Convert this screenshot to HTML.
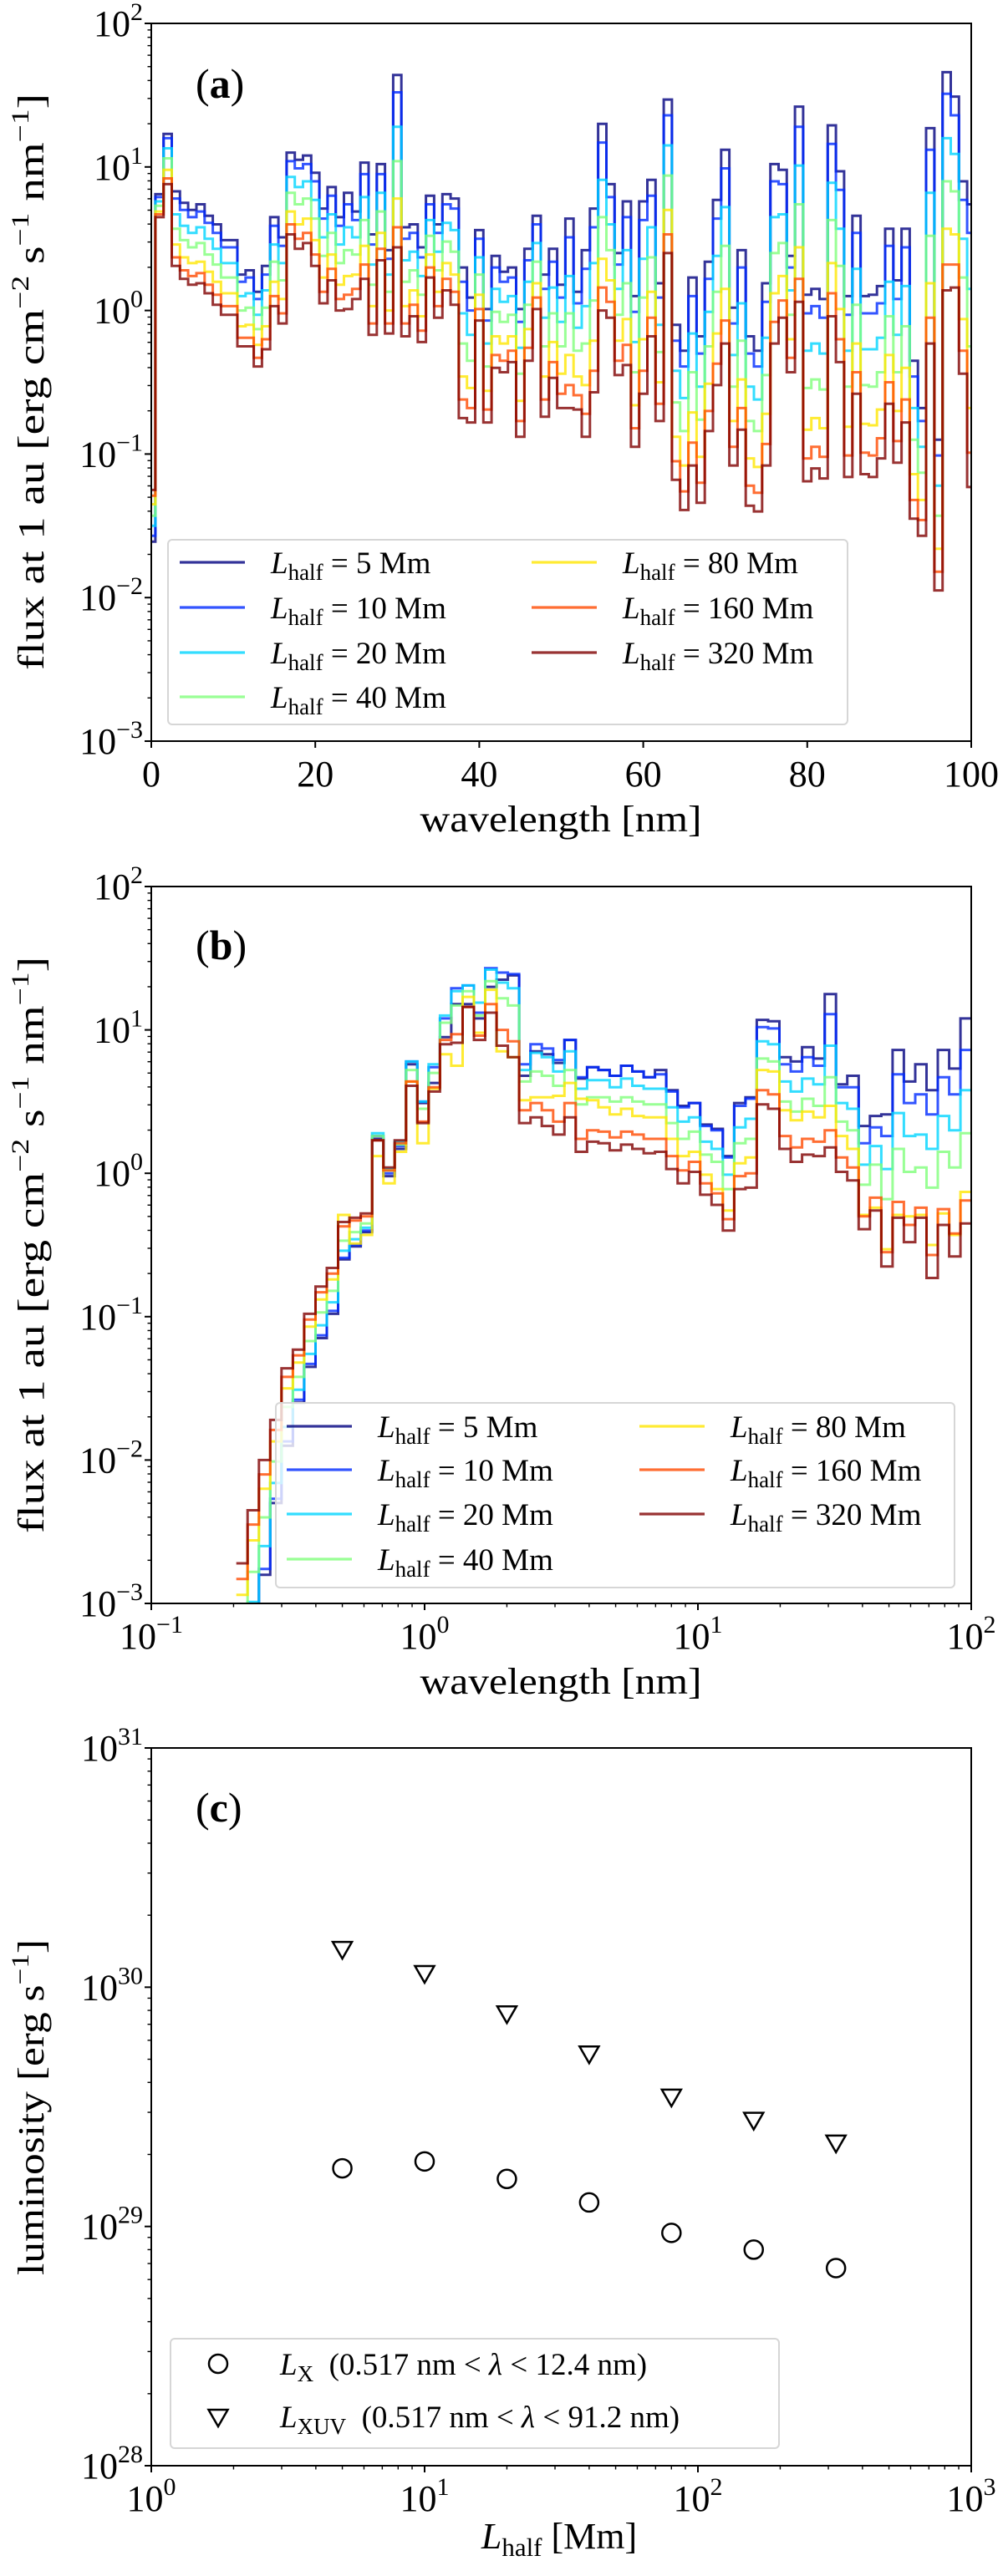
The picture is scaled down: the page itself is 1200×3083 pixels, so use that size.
<!DOCTYPE html>
<html><head><meta charset="utf-8"><title>Spectra and luminosity</title>
<style>
html,body{margin:0;padding:0;background:#fff;}
svg{display:block;font-family:"Liberation Serif","DejaVu Serif",serif;}
</style></head>
<body>
<svg id="fig" xmlns="http://www.w3.org/2000/svg" width="1200" height="3083" viewBox="0 0 1200 3083">
<rect x="0" y="0" width="1200" height="3083" fill="#fff"/>
</svg>
<script>
// ---------- Panel (a): log10 flux per 1-nm bin (centres 0..100 nm) ----------
const seriesNames = ["5","10","20","40","80","160","320"];
const seriesColors = ["#00007f","#002bff","#00d5ff","#80ff7a","#ffe600","#ff4a00","#800000"];
const aLog5 = [-1.61,0.81,1.23,0.83,0.75,0.70,0.74,0.66,0.60,0.49,0.49,0.25,0.28,0.13,0.31,0.65,0.51,1.10,1.05,1.08,0.96,0.71,0.86,0.65,0.82,0.69,1.03,0.53,1.02,0.42,1.64,0.58,0.60,0.44,0.80,0.60,0.81,0.78,0.30,0.09,0.56,0.01,0.38,0.27,0.30,0.01,0.43,0.66,0.25,0.43,0.18,0.64,0.13,0.42,0.71,1.30,0.88,0.40,0.76,0.10,0.76,0.91,0.19,1.47,-0.10,-0.28,0.23,-0.18,0.34,0.77,1.12,0.02,0.42,-0.18,-0.28,0.19,1.02,0.98,0.38,1.42,0.11,0.15,0.08,1.29,0.97,0.10,0.66,0.10,0.11,0.17,0.57,0.21,0.57,-0.35,-0.68,1.27,-0.90,1.66,1.49,0.90,0.74];
const aLog10 = [-1.57,0.79,1.20,0.78,0.70,0.65,0.69,0.61,0.54,0.44,0.44,0.20,0.23,0.08,0.25,0.59,0.45,1.04,0.99,1.02,0.90,0.64,0.80,0.59,0.74,0.63,0.95,0.46,0.95,0.36,1.52,0.50,0.54,0.37,0.74,0.54,0.74,0.71,0.20,0.00,0.50,-0.07,0.30,0.20,0.23,-0.08,0.35,0.60,0.15,0.34,0.09,0.51,0.05,0.29,0.58,1.17,0.79,0.32,0.65,-0.01,0.63,0.80,0.09,1.36,-0.21,-0.39,0.10,-0.30,0.22,0.64,0.99,-0.09,0.30,-0.30,-0.39,0.06,0.90,0.88,0.30,1.28,-0.02,0.03,-0.05,1.16,0.84,-0.03,0.54,-0.02,-0.02,0.05,0.45,0.08,0.44,-0.46,-0.77,1.12,-1.01,1.51,1.36,0.77,0.54];
const aLog20 = [-1.50,0.76,1.13,0.67,0.59,0.54,0.58,0.50,0.43,0.33,0.33,0.10,0.12,-0.03,0.14,0.46,0.33,0.93,0.86,0.90,0.77,0.51,0.67,0.46,0.58,0.51,0.79,0.32,0.82,0.25,1.28,0.35,0.41,0.24,0.63,0.41,0.61,0.56,-0.02,-0.17,0.37,-0.23,0.15,0.06,0.10,-0.26,0.20,0.47,-0.05,0.16,-0.08,0.24,-0.12,0.03,0.33,0.91,0.60,0.15,0.42,-0.22,0.36,0.58,-0.10,1.15,-0.42,-0.61,-0.16,-0.53,-0.01,0.38,0.72,-0.31,0.05,-0.53,-0.62,-0.19,0.65,0.67,0.14,1.01,-0.28,-0.23,-0.30,0.89,0.57,-0.28,0.29,-0.27,-0.27,-0.19,0.20,-0.17,0.17,-0.68,-0.95,0.82,-1.22,1.20,1.09,0.50,0.15];
const aLog40 = [-1.43,0.73,1.06,0.57,0.49,0.44,0.47,0.39,0.32,0.23,0.23,0.00,0.02,-0.13,0.02,0.34,0.21,0.82,0.74,0.78,0.64,0.38,0.54,0.33,0.42,0.39,0.63,0.18,0.69,0.13,1.04,0.20,0.28,0.11,0.52,0.28,0.48,0.41,-0.23,-0.35,0.25,-0.39,-0.01,-0.08,-0.03,-0.44,0.04,0.34,-0.25,-0.02,-0.25,-0.02,-0.28,-0.23,0.07,0.65,0.42,-0.03,0.19,-0.43,0.09,0.37,-0.29,0.94,-0.64,-0.84,-0.43,-0.76,-0.25,0.13,0.45,-0.53,-0.21,-0.77,-0.84,-0.45,0.40,0.47,-0.03,0.74,-0.54,-0.48,-0.55,0.63,0.31,-0.53,0.04,-0.52,-0.53,-0.43,-0.04,-0.43,-0.11,-0.90,-1.13,0.52,-1.43,0.90,0.83,0.23,-0.25];
const aLog80 = [-1.35,0.69,0.98,0.46,0.37,0.33,0.34,0.27,0.20,0.12,0.12,-0.11,-0.10,-0.24,-0.11,0.20,0.08,0.69,0.60,0.64,0.49,0.23,0.39,0.18,0.24,0.25,0.45,0.03,0.54,0.00,0.78,0.03,0.14,-0.04,0.39,0.13,0.33,0.25,-0.46,-0.54,0.11,-0.56,-0.18,-0.23,-0.18,-0.63,-0.13,0.19,-0.46,-0.22,-0.44,-0.31,-0.46,-0.52,-0.21,0.36,0.21,-0.21,-0.06,-0.66,-0.20,0.13,-0.50,0.70,-0.88,-1.08,-0.71,-1.02,-0.51,-0.16,0.15,-0.77,-0.48,-1.03,-1.09,-0.72,0.12,0.24,-0.20,0.44,-0.83,-0.75,-0.82,0.33,0.01,-0.81,-0.23,-0.79,-0.80,-0.69,-0.31,-0.70,-0.40,-1.14,-1.32,0.19,-1.66,0.57,0.53,-0.06,-0.68];
const aLog160 = [-1.29,0.67,0.92,0.37,0.28,0.24,0.26,0.18,0.11,0.03,0.03,-0.19,-0.19,-0.33,-0.20,0.10,-0.02,0.60,0.50,0.54,0.39,0.13,0.29,0.08,0.11,0.15,0.32,-0.09,0.43,-0.09,0.58,-0.09,0.04,-0.14,0.30,0.03,0.22,0.13,-0.62,-0.68,0.01,-0.69,-0.31,-0.35,-0.28,-0.77,-0.26,0.09,-0.62,-0.36,-0.58,-0.52,-0.59,-0.72,-0.42,0.16,0.06,-0.35,-0.24,-0.82,-0.42,-0.05,-0.65,0.53,-1.05,-1.26,-0.92,-1.20,-0.70,-0.37,-0.07,-0.95,-0.68,-1.22,-1.27,-0.93,-0.08,0.07,-0.33,0.22,-1.03,-0.95,-1.02,0.12,-0.20,-1.01,-0.43,-0.99,-1.01,-0.89,-0.50,-0.91,-0.62,-1.32,-1.46,-0.05,-1.82,0.32,0.32,-0.28,-0.99];
const aLog320 = [-1.25,0.65,0.88,0.31,0.22,0.18,0.19,0.12,0.04,-0.03,-0.03,-0.25,-0.25,-0.39,-0.27,0.03,-0.09,0.53,0.43,0.47,0.31,0.05,0.21,0.00,0.01,0.08,0.22,-0.17,0.35,-0.16,0.44,-0.18,-0.04,-0.22,0.23,-0.05,0.14,0.04,-0.75,-0.78,-0.07,-0.78,-0.40,-0.43,-0.36,-0.88,-0.35,0.01,-0.74,-0.47,-0.68,-0.68,-0.69,-0.88,-0.57,0.00,-0.05,-0.45,-0.38,-0.95,-0.58,-0.18,-0.77,0.40,-1.18,-1.39,-1.08,-1.34,-0.84,-0.52,-0.23,-1.08,-0.83,-1.36,-1.40,-1.08,-0.23,-0.05,-0.43,0.06,-1.19,-1.10,-1.17,-0.04,-0.36,-1.16,-0.58,-1.14,-1.16,-1.03,-0.65,-1.06,-0.78,-1.45,-1.57,-0.23,-1.95,0.14,0.16,-0.44,-1.23];
const aXTicks = [0,20,40,60,80,100];

// ---------- Panel (b): log10 flux per log-spaced bin ----------
const bFirstEdgeLog = -0.689;
const bBinWidthLog = 0.0414;
const bLog5 = [-3.6,-3.2,-2.8,-2.3,-1.9,-1.6,-1.35,-1.15,-0.98,-0.60,-0.51,-0.41,0.24,-0.02,0.17,0.76,0.49,0.63,0.95,1.18,1.18,1.08,1.30,1.35,1.38,0.68,0.85,0.83,0.77,0.93,0.66,0.74,0.72,0.68,0.75,0.71,0.67,0.72,0.58,0.47,0.49,0.34,0.31,0.12,0.49,0.53,1.07,1.06,0.81,0.78,0.88,0.80,1.25,0.62,0.68,0.33,0.40,0.41,0.86,0.64,0.76,0.58,0.86,0.73,1.08];
const bLog10 = [-3.56,-3.16,-2.76,-2.27,-1.87,-1.58,-1.33,-1.13,-0.96,-0.59,-0.50,-0.40,0.26,0.00,0.19,0.78,0.50,0.74,1.08,1.29,1.31,1.12,1.43,1.40,1.39,0.76,0.90,0.87,0.79,0.93,0.67,0.74,0.72,0.68,0.75,0.71,0.67,0.69,0.57,0.46,0.49,0.33,0.30,0.11,0.47,0.52,1.02,1.01,0.76,0.71,0.81,0.75,1.11,0.60,0.60,0.21,0.32,0.26,0.69,0.49,0.55,0.41,0.67,0.55,0.86];
const bLog20 = [-3.38,-2.99,-2.60,-2.16,-1.77,-1.51,-1.26,-1.06,-0.90,-0.54,-0.46,-0.38,0.28,0.03,0.22,0.78,0.50,0.76,1.10,1.27,1.31,1.19,1.42,1.33,1.29,0.72,0.84,0.81,0.71,0.85,0.59,0.65,0.65,0.60,0.66,0.61,0.59,0.59,0.46,0.36,0.39,0.22,0.17,-0.01,0.32,0.38,0.92,0.90,0.64,0.57,0.66,0.62,0.89,0.49,0.45,0.06,0.19,0.03,0.42,0.26,0.27,0.17,0.40,0.30,0.58];
const bLog40 = [-3.16,-2.78,-2.40,-2.01,-1.63,-1.42,-1.17,-0.97,-0.82,-0.47,-0.41,-0.35,0.26,0.02,0.20,0.72,0.45,0.70,1.05,1.17,1.27,1.10,1.34,1.22,1.17,0.64,0.71,0.68,0.61,0.72,0.48,0.53,0.53,0.50,0.53,0.50,0.48,0.48,0.35,0.24,0.29,0.13,0.08,-0.11,0.21,0.24,0.80,0.78,0.50,0.43,0.52,0.47,0.67,0.36,0.30,-0.08,0.06,-0.18,0.17,0.01,0.04,-0.10,0.15,0.04,0.28];
const bLog80 = [-2.94,-2.56,-2.20,-1.87,-1.50,-1.32,-1.07,-0.88,-0.74,-0.29,-0.49,-0.43,0.12,-0.07,0.15,0.64,0.21,0.59,0.83,0.75,1.23,0.98,1.28,0.85,0.81,0.51,0.53,0.53,0.54,0.63,0.52,0.51,0.46,0.41,0.45,0.40,0.39,0.39,0.24,0.12,0.15,-0.01,-0.11,-0.26,0.07,0.11,0.72,0.71,0.44,0.37,0.43,0.39,0.47,0.26,0.17,-0.29,-0.24,-0.53,-0.29,-0.30,-0.29,-0.50,-0.28,-0.43,-0.13];
const bLog160 = [-2.83,-2.45,-2.10,-1.79,-1.42,-1.27,-1.02,-0.83,-0.70,-0.37,-0.33,-0.30,0.23,0.02,0.21,0.64,0.36,0.60,0.93,0.97,1.16,0.96,1.18,1.00,0.92,0.44,0.49,0.44,0.36,0.49,0.24,0.30,0.29,0.25,0.29,0.27,0.24,0.24,0.12,0.02,0.08,-0.07,-0.14,-0.32,-0.02,0.00,0.58,0.55,0.26,0.18,0.24,0.22,0.30,0.11,0.04,-0.30,-0.17,-0.55,-0.20,-0.36,-0.24,-0.57,-0.25,-0.42,-0.19];
const bLog320 = [-2.72,-2.35,-2.0,-1.72,-1.36,-1.23,-0.98,-0.79,-0.66,-0.34,-0.31,-0.28,0.23,0.04,0.23,0.61,0.35,0.57,0.90,0.91,1.16,0.93,1.12,0.89,0.81,0.35,0.39,0.33,0.27,0.39,0.15,0.22,0.21,0.16,0.20,0.17,0.14,0.15,0.03,-0.07,0.01,-0.15,-0.22,-0.40,-0.11,-0.10,0.48,0.45,0.17,0.08,0.13,0.12,0.18,0.01,-0.05,-0.39,-0.26,-0.65,-0.31,-0.48,-0.31,-0.73,-0.36,-0.58,-0.35];

// ---------- Panel (c): luminosities ----------
const cLhalf = [5,10,20,40,80,160,320];
const cLX = [1.75e29,1.87e29,1.58e29,1.26e29,9.4e28,8.0e28,6.7e28];
const cLXUV = [1.45e30,1.15e30,7.8e29,5.3e29,3.5e29,2.8e29,2.25e29];

const NS = "http://www.w3.org/2000/svg";
const svg = document.getElementById("fig");
function mk(tag, attrs, parent){
  const e = document.createElementNS(NS, tag);
  for (const k in attrs) e.setAttribute(k, attrs[k]);
  (parent || svg).appendChild(e);
  return e;
}
const X0 = 181, X1 = 1162;
const panels = {
  a:{y0:28,y1:887,ymin:-3,ymax:2},
  b:{y0:1061,y1:1919,ymin:-3,ymax:2},
  c:{y0:2092,y1:2951,ymin:28,ymax:31}
};
function yScale(p, lg){ return p.y1 - (lg - p.ymin)/(p.ymax - p.ymin)*(p.y1 - p.y0); }
const xA = v => X0 + v/100*(X1-X0);
const xB = lg => X0 + (lg + 1)/3*(X1-X0);
const xC = lg => X0 + lg/3*(X1-X0);

function clip(id, p){
  const cp = mk("clipPath", {id:id});
  mk("rect", {x:X0, y:p.y0, width:X1-X0, height:p.y1-p.y0}, cp);
}
clip("clipA", panels.a); clip("clipB", panels.b); clip("clipC", panels.c);

function supLabel(x, y, exp, anchor, parent, size){
  const t = mk("text", {x:x, y:y, "text-anchor":anchor, "font-size":size||44, fill:"#000"}, parent);
  const a = mk("tspan", {}, t); a.textContent = "10";
  const b = mk("tspan", {dy:-19, "font-size":30}, t); b.textContent = String(exp).replace("-", "\u2212");
  return t;
}

function yAxis(p, key){
  const g = mk("g", {});
  
  
  for (let d = p.ymin; d <= p.ymax; d++){
    const y = yScale(p, d);
    const tk = mk("line", {x1:X0-8, x2:X0, y1:y, y2:y, stroke:"#000", "stroke-width":2}, g);
    
    
    const lb = supLabel(X0-10, y+15, d, "end", g);
    
    
    if (d < p.ymax){
      for (let m = 2; m <= 9; m++){
        const ym = yScale(p, d + Math.log10(m));
        const mt = mk("line", {x1:X0-4.5, x2:X0, y1:ym, y2:ym, stroke:"#000", "stroke-width":1.4}, g);
        
        
      }
    }
  }
}
function frame(p, key){
  const r = mk("rect", {x:X0, y:p.y0, width:X1-X0, height:p.y1-p.y0, fill:"none", stroke:"#000", "stroke-width":2});
  
  
}
function logXAxis(p, key, dmin, dmax, xf){
  const g = mk("g", {});
  
  
  for (let d = dmin; d <= dmax; d++){
    const x = xf(d);
    const tk = mk("line", {x1:x, x2:x, y1:p.y1, y2:p.y1+8, stroke:"#000", "stroke-width":2}, g);
    
    
    const lb = supLabel(x, p.y1+54, d, "middle", g);
    
    
    if (d < dmax){
      for (let m = 2; m <= 9; m++){
        const xm = xf(d + Math.log10(m));
        const mt = mk("line", {x1:xm, x2:xm, y1:p.y1, y2:p.y1+4.5, stroke:"#000", "stroke-width":1.4}, g);
        
        
      }
    }
  }
}
function stepPath(lefts, rights, vals, xf, yf){
  let d = "";
  for (let i = 0; i < vals.length; i++){
    const y = yf(vals[i]).toFixed(1);
    d += (i === 0 ? "M" + xf(lefts[i]).toFixed(1) + "," + y : "V" + y) + "H" + xf(rights[i]).toFixed(1);
  }
  return d;
}
function yLabel(cx, cy, len, parts, name){
  const t = mk("text", {transform:"translate(" + cx + "," + cy + ") rotate(-90)", "text-anchor":"middle", "font-size":44, textLength:len, lengthAdjust:"spacingAndGlyphs"});
  
  
  parts.forEach(pt => { const s = mk("tspan", pt[1] || {}, t); s.textContent = pt[0]; });
}
const fluxParts = [["flux at 1 au [erg cm"],["\u22122",{dy:-18,"font-size":30}],[" s",{dy:18}],["\u22121",{dy:-18,"font-size":30}],[" nm",{dy:18}],["\u22121",{dy:-18,"font-size":30}],["]",{dy:18}]];

function legendEntry(g, x, y, color, name, label){
  const ln = mk("line", {x1:x, x2:x+78, y1:y, y2:y, stroke:color, "stroke-width":3.2, "stroke-opacity":0.8}, g);
  
  
  const t = mk("text", {x:x+109, y:y+13, "font-size":37}, g);
  
  
  const a = mk("tspan", {"font-style":"italic"}, t); a.textContent = "L";
  const b = mk("tspan", {dy:8, "font-size":27}, t); b.textContent = "half";
  const c = mk("tspan", {dy:-8}, t); c.textContent = " = " + label + " Mm";
}
function spectraLegend(key, bx, by, bw, bh, lx1, lx2, rows){
  const g = mk("g", {});
  
  
  const r = mk("rect", {x:bx, y:by, width:bw, height:bh, rx:5, fill:"#fff", "fill-opacity":0.8, stroke:"#d6d6d6", "stroke-width":2}, g);
  
  
  for (let i = 0; i < seriesNames.length; i++){
    const col = i < 4 ? lx1 : lx2;
    const row = i < 4 ? i : i - 4;
    legendEntry(g, col, rows[row], seriesColors[i], seriesNames[i] + "mm", seriesNames[i]);
  }
}

// ===== Panel a =====
(function(){
  const p = panels.a;
  const aSeries = [aLog5,aLog10,aLog20,aLog40,aLog80,aLog160,aLog320];
  const lefts = aLog5.map((_, k) => Math.max(0, k - 0.5));
  const rights = aLog5.map((_, k) => Math.min(100, k + 0.5));
  const g = mk("g", {"clip-path":"url(#clipA)"});
  
  
  aSeries.forEach((s, i) => {
    const path = mk("path", {d:stepPath(lefts, rights, s, xA, v => yScale(p, v)), fill:"none", stroke:seriesColors[i], "stroke-width":3, "stroke-opacity":0.8, "stroke-linejoin":"miter"}, g);
    
    
  });
  yAxis(p, "a");
  aXTicks.forEach(v => {
    const tk = mk("line", {x1:xA(v), x2:xA(v), y1:p.y1, y2:p.y1+8, stroke:"#000", "stroke-width":2});
    
    
    const t = mk("text", {x:xA(v), y:p.y1+54, "text-anchor":"middle", "font-size":44});
    
    
    t.textContent = v;
  });
  spectraLegend("a", 201, 646, 813, 221, 215, 636, [673,727,781,834]);
  frame(p, "a");
  const pl = mk("text", {x:234, y:117, "font-size":50});
  
  
  const s1 = mk("tspan", {}, pl); s1.textContent = "(";
  const s2 = mk("tspan", {"font-weight":"bold"}, pl); s2.textContent = "a";
  const s3 = mk("tspan", {}, pl); s3.textContent = ")";
  yLabel(52, 457, 690, fluxParts, "y-axis-title-a");
  const xl = mk("text", {x:671, y:995, "text-anchor":"middle", "font-size":44, textLength:337, lengthAdjust:"spacingAndGlyphs"});
  
  
  xl.textContent = "wavelength [nm]";
})();

// ===== Panel b =====
(function(){
  const p = panels.b;
  const bSeries = [bLog5,bLog10,bLog20,bLog40,bLog80,bLog160,bLog320];
  const lefts = bLog5.map((_, i) => bFirstEdgeLog + bBinWidthLog*i);
  const rights = bLog5.map((_, i) => Math.min(2, bFirstEdgeLog + bBinWidthLog*(i+1)));
  const g = mk("g", {"clip-path":"url(#clipB)"});
  
  
  bSeries.forEach((s, i) => {
    const path = mk("path", {d:stepPath(lefts, rights, s, xB, v => yScale(p, v)), fill:"none", stroke:seriesColors[i], "stroke-width":3, "stroke-opacity":0.8}, g);
    
    
  });
  yAxis(p, "b");
  logXAxis(p, "b", -1, 2, xB);
  spectraLegend("b", 330, 1679, 812, 221, 343, 765, [1707,1759,1812,1866]);
  frame(p, "b");
  const pl = mk("text", {x:234, y:1148, "font-size":50});
  
  
  const s1 = mk("tspan", {}, pl); s1.textContent = "(";
  const s2 = mk("tspan", {"font-weight":"bold"}, pl); s2.textContent = "b";
  const s3 = mk("tspan", {}, pl); s3.textContent = ")";
  yLabel(52, 1490, 690, fluxParts, "y-axis-title-b");
  const xl = mk("text", {x:671, y:2027, "text-anchor":"middle", "font-size":44, textLength:337, lengthAdjust:"spacingAndGlyphs"});
  
  
  xl.textContent = "wavelength [nm]";
})();

// ===== Panel c =====
function triDown(g, x, y){
  return mk("path", {d:"M" + (x-11.5) + "," + (y-8) + "H" + (x+11.5) + "L" + x + "," + (y+12) + "Z", fill:"none", stroke:"#000", "stroke-width":2.5, "stroke-linejoin":"miter"}, g);
}
(function(){
  const p = panels.c;
  const g = mk("g", {"clip-path":"url(#clipC)"});
  
  
  cLhalf.forEach((L, i) => {
    const x = xC(Math.log10(L));
    const c = mk("circle", {cx:x, cy:yScale(p, Math.log10(cLX[i])), r:11, fill:"none", stroke:"#000", "stroke-width":2.5}, g);
    
    
    const t = triDown(g, x, yScale(p, Math.log10(cLXUV[i])));
    
    
  });
  yAxis(p, "c");
  logXAxis(p, "c", 0, 3, xC);
  const lg = mk("g", {});
  
  
  const r = mk("rect", {x:204, y:2799, width:728, height:131, rx:5, fill:"#fff", "fill-opacity":0.8, stroke:"#d6d6d6", "stroke-width":2}, lg);
  
  
  const lc = mk("circle", {cx:261, cy:2829, r:11, fill:"none", stroke:"#000", "stroke-width":2.5}, lg);
  
  
  const lt = triDown(lg, 261, 2892);
  
  
  [["X","12.4",2842,"lx"],["XUV","91.2",2905,"lxuv"]].forEach(e => {
    const t = mk("text", {x:335, y:e[2], "font-size":37}, lg);
    
    
    const a = mk("tspan", {"font-style":"italic"}, t); a.textContent = "L";
    const b = mk("tspan", {dy:8, "font-size":27}, t); b.textContent = e[0];
    const c = mk("tspan", {dy:-8}, t); c.textContent = "\u2002(0.517 nm < ";
    const d = mk("tspan", {"font-style":"italic"}, t); d.textContent = "\u03bb";
    const f = mk("tspan", {}, t); f.textContent = " < " + e[1] + " nm)";
  });
  frame(p, "c");
  const pl = mk("text", {x:234, y:2180, "font-size":50});
  
  
  const s1 = mk("tspan", {}, pl); s1.textContent = "(";
  const s2 = mk("tspan", {"font-weight":"bold"}, pl); s2.textContent = "c";
  const s3 = mk("tspan", {}, pl); s3.textContent = ")";
  yLabel(52, 2522, 402, [["luminosity [erg s"],["\u22121",{dy:-18,"font-size":30}],["]",{dy:18}]], "y-axis-title-c");
  const xl = mk("text", {x:669, y:3050, "text-anchor":"middle", "font-size":44});
  
  
  const a = mk("tspan", {"font-style":"italic"}, xl); a.textContent = "L";
  const b = mk("tspan", {dy:9, "font-size":31}, xl); b.textContent = "half";
  const c = mk("tspan", {dy:-9}, xl); c.textContent = " [Mm]";
})();
</script>
</body></html>
